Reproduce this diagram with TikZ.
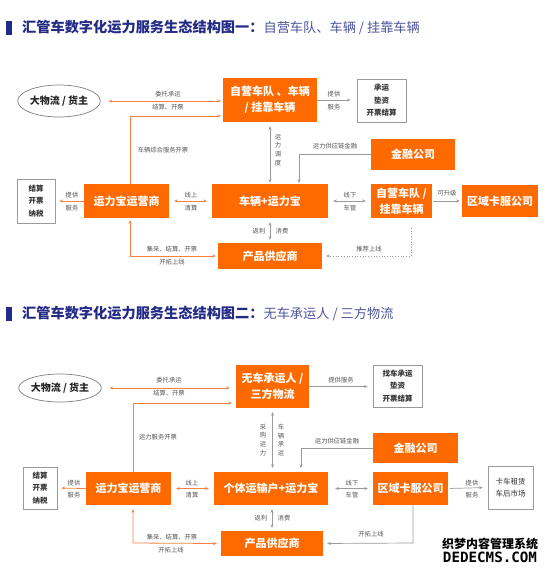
\documentclass[tikz,border=0pt]{standalone}
\usepackage{fontspec}
\setmainfont{Noto Sans CJK SC}
\newfontfamily\wmfont{DejaVu Sans Mono}
\usetikzlibrary{arrows.meta,shapes.geometric}
\definecolor{boxor}{HTML}{FF6A00}
\definecolor{lineor}{HTML}{F5823F}
\definecolor{lgray}{HTML}{9A9A9A}
\definecolor{lbltxt}{HTML}{555555}
\definecolor{gbtxt}{HTML}{333333}
\definecolor{titA}{HTML}{232B86}
\definecolor{titB}{HTML}{4E569C}
\tikzset{
  ob/.style={fill=boxor, text=white, font=\bfseries\fontsize{11}{16}\selectfont, inner sep=0pt, align=center},
  gb/.style={draw=lgray, line width=0.8pt, fill=white, text=gbtxt, font=\bfseries\fontsize{7.5}{12.5}\selectfont, inner sep=0pt, align=center},
  eli/.style={ellipse, draw=gray, line width=0.7pt, text=black!85, font=\bfseries\fontsize{10}{12}\selectfont, inner sep=0pt},
  lbl/.style={font=\fontsize{6.3}{8}\selectfont, text=lbltxt, inner sep=0pt},
  vlbl/.style={font=\fontsize{6.3}{8.8}\selectfont, text=lbltxt, inner sep=0pt, align=center},
  tip/.style={-{Stealth[length=3.5pt,width=3pt]}},
  btip/.style={{Stealth[length=3.5pt,width=3pt]}-{Stealth[length=3.5pt,width=3pt]}},
  oline/.style={draw=lineor, line width=0.8pt},
  gline/.style={draw=lgray, line width=0.7pt},
}
\begin{document}
\begin{tikzpicture}[x=1pt,y=-1pt]
\useasboundingbox[fill=white] (0,0) rectangle (550,571);

% ---------- titles ----------
\fill[titA] (6,21) rectangle (11.5,35);
\node[anchor=west, inner sep=0pt] (t1) at (22,28)
  {\textcolor{titA}{\bfseries\fontsize{14.2}{16}\selectfont 汇管车数字化运力服务生态结构图一：}\textcolor{titB}{\fontsize{13.2}{16}\selectfont 自营车队、车辆 / 挂靠车辆}};
\fill[titA] (6,307) rectangle (11.5,321);
\node[anchor=west, inner sep=0pt] (t2) at (22,314)
  {\textcolor{titA}{\bfseries\fontsize{14.2}{16}\selectfont 汇管车数字化运力服务生态结构图二：}\textcolor{titB}{\fontsize{13.2}{16}\selectfont 无车承运人 / 三方物流}};

% ---------- diagram 1 ----------
\node[eli, minimum width=82pt, minimum height=32pt] (d1eli) at (59,101) {大物流 / 货主};
\node[ob, minimum width=94pt, minimum height=44pt] (d1own) at (270,100) {自营车队 、车辆\\/ 挂靠车辆};
\node[gb, minimum width=49pt, minimum height=43pt] (d1svc) at (381.5,100.5) {承运\\垫资\\开票结算};
\node[ob, minimum width=84pt, minimum height=31pt] (d1fin) at (413,154.5) {金融公司};
\node[ob, minimum width=116pt, minimum height=34pt] (d1car) at (270,201) {车辆+运力宝};
\node[ob, minimum width=85pt, minimum height=34pt] (d1op) at (126.5,201) {运力宝运营商};
\node[gb, minimum width=38pt, minimum height=44pt] (d1tax) at (36,201) {结算\\开票\\纳税};
\node[ob, minimum width=61pt, minimum height=34pt] (d1own2) at (401.5,201) {自营车队 /\\挂靠车辆};
\node[ob, minimum width=76pt, minimum height=32pt] (d1reg) at (500,201) {区域卡服公司};
\node[ob, minimum width=104pt, minimum height=26pt] (d1prod) at (270,256) {产品供应商};

\coordinate (d1k1) at (130,116);
\coordinate (d1k2) at (299,184);
\coordinate (d1k3) at (130,256);
\coordinate (d1k4) at (411,228);
\coordinate (d1k5) at (411,256);

\draw[oline,btip,shorten <=8pt,shorten >=2pt] (d1eli.east) -- (d1eli.east -| d1own.west);
\draw[oline,tip,shorten >=2pt] (d1op.north -| d1k1) -- (d1k1) -- (d1k1 -| d1own.west);
\draw[gline,tip,shorten >=6pt] (d1own.east) -- (d1own.east -| d1svc.west);
\draw[gline,btip,shorten <=4pt,shorten >=1pt] (d1own.south) -- (d1car.north);
\draw[gline,tip,shorten >=1pt] (d1fin.west) -| (d1k2);
\draw[oline,tip,shorten >=4pt] (d1op.west) -- (d1tax.east);
\draw[oline,btip,shorten <=5pt,shorten >=5pt] (d1op.east) -- (d1car.west);
\draw[gline,btip,shorten <=5pt,shorten >=5pt] (d1car.east) -- (d1own2.west);
\draw[gline,tip,shorten <=1pt,shorten >=2pt] (d1own2.east) -- (d1reg.west);
\draw[gline,btip,shorten <=4pt,shorten >=3pt] (d1car.south) -- (d1prod.north);
\draw[oline,btip,shorten <=2pt,shorten >=2pt] (d1op.south -| d1k3) -- (d1k3) -- (d1prod.west);
\draw[gline,dotted,tip,shorten >=4pt] (d1k4) -- (d1k5) -- (d1prod.east);

\node[lbl] (l1a) at (168,94) {委托承运};
\node[lbl] (l1b) at (168,107) {结算、开票};
\node[lbl] (l1c) at (163,150) {车辆综合服务开票};
\node[lbl] (l1d) at (334,94) {提供};
\node[lbl] (l1e) at (334,107) {服务};
\node[vlbl] (l1f) at (278,150) {运\\力\\调\\度};
\node[lbl] (l1g) at (335,146) {运力供应链金融};
\node[lbl] (l1h) at (72,195) {提供};
\node[lbl] (l1i) at (72,208) {服务};
\node[lbl] (l1j) at (191,195) {线上};
\node[lbl] (l1k) at (191,208) {清算};
\node[lbl] (l1l) at (350,195) {线下};
\node[lbl] (l1m) at (350,208) {车管};
\node[lbl] (l1n) at (447,193) {可升级};
\node[lbl] (l1o) at (259,231) {返利};
\node[lbl] (l1p) at (282,231) {消费};
\node[lbl] (l1q) at (172,249) {集采、结算、开票};
\node[lbl] (l1r) at (172,262) {开拓上线};
\node[lbl] (l1s) at (369,249) {推荐上线};

% ---------- diagram 2 ----------
\node[eli, minimum width=80pt, minimum height=28pt] (d2eli) at (60,388) {大物流 / 货主};
\node[ob, minimum width=73pt, minimum height=43pt] (d2nv) at (272.5,386.5) {无车承运人 /\\三方物流};
\node[gb, minimum width=49pt, minimum height=42pt] (d2svc) at (397.5,386) {找车承运\\垫资\\开票结算};
\node[ob, minimum width=85pt, minimum height=30pt] (d2fin) at (415.5,448) {金融公司};
\node[ob, minimum width=114pt, minimum height=33pt] (d2car) at (271,488.5) {个体运输户+运力宝};
\node[ob, minimum width=85pt, minimum height=33pt] (d2op) at (128.5,488.5) {运力宝运营商};
\node[gb, minimum width=34pt, minimum height=42pt] (d2tax) at (40,488) {结算\\开票\\纳税};
\node[ob, minimum width=75pt, minimum height=33pt] (d2reg) at (410.5,488.5) {区域卡服公司};
\node[gb, minimum width=45pt, minimum height=43pt, font=\fontsize{7.5}{12.5}\selectfont] (d2truck) at (510.5,487.5) {卡车租赁\\车后市场};
\node[ob, minimum width=102pt, minimum height=25pt] (d2prod) at (272,543.5) {产品供应商};

\coordinate (d2k1) at (133,403);
\coordinate (d2k2) at (301,472);
\coordinate (d2k3) at (133,543);
\coordinate (d2k4) at (413,543);

\draw[oline,btip,shorten <=8pt,shorten >=6pt] (d2eli.east) -- (d2eli.east -| d2nv.west);
\draw[oline,tip,shorten >=4pt] (d2op.north -| d2k1) -- (d2k1) -- (d2k1 -| d2nv.west);
\draw[gline,tip,shorten >=5pt] (d2nv.east) -- (d2nv.east -| d2svc.west);
\draw[gline,btip,shorten <=4pt,shorten >=4pt] (d2nv.south) -- (d2nv.south |- d2car.north);
\draw[gline,tip,shorten >=4pt] (d2fin.west) -| (d2k2);
\draw[oline,tip,shorten >=4pt] (d2op.west) -- (d2tax.east);
\draw[oline,btip,shorten <=5pt,shorten >=5pt] (d2op.east) -- (d2car.west);
\draw[gline,btip,shorten <=7pt,shorten >=5pt] (d2car.east) -- (d2reg.west);
\draw[gline,tip,shorten <=2pt,shorten >=5pt] (d2reg.east) -- (d2truck.west);
\draw[gline,btip,shorten <=4pt,shorten >=3pt] (d2car.south -| d2prod.north) -- (d2prod.north);
\draw[oline,btip,shorten <=4pt,shorten >=4pt] (d2op.south -| d2k3) -- (d2k3) -- (d2prod.west);
\draw[gline,tip,shorten >=4pt] (d2reg.south -| d2k4) -- (d2k4) -- (d2prod.east);

\node[lbl] (l2a) at (169,380) {委托承运};
\node[lbl] (l2b) at (169,393) {结算、开票};
\node[lbl] (l2c) at (158,437) {运力服务开票};
\node[lbl] (l2d) at (341,380) {提供服务};
\node[vlbl] (l2e) at (263,440) {采\\购\\运\\力};
\node[vlbl] (l2f) at (281,440) {车\\辆\\承\\运};
\node[lbl] (l2g) at (337,441) {运力供应链金融};
\node[lbl] (l2h) at (74,483) {提供};
\node[lbl] (l2i) at (74,495) {服务};
\node[lbl] (l2j) at (192,483) {线上};
\node[lbl] (l2k) at (192,495) {清算};
\node[lbl] (l2l) at (352,483) {线下};
\node[lbl] (l2m) at (352,495) {车管};
\node[lbl] (l2n) at (472,483) {提供};
\node[lbl] (l2o) at (472,495) {服务};
\node[lbl] (l2p) at (261,518) {返利};
\node[lbl] (l2q) at (284,518) {消费};
\node[lbl] (l2r) at (172,537) {集采、结算、开票};
\node[lbl] (l2s) at (171,550) {开拓上线};
\node[lbl] (l2t) at (371,534) {开拓上线};

% ---------- watermark ----------
\node[inner sep=0pt, font=\bfseries\fontsize{12}{14}\selectfont, text=black] (wm1) at (490,543.5) {织梦内容管理系统};
\node[inner sep=0pt, font=\wmfont\bfseries\fontsize{14.2}{16}\selectfont, text=black] (wm2) at (490,557) {DEDECMS.COM};
\end{tikzpicture}
\end{document}
